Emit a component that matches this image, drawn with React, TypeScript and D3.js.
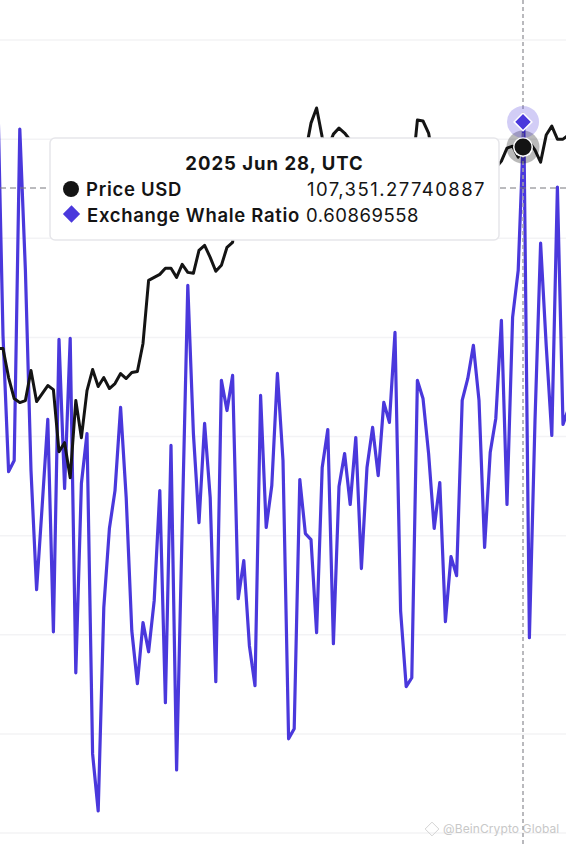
import React from 'react';
import * as d3 from 'd3';

const width = 566;
const height = 846;

// daily values, 2025-03-26 to 2025-07-06
const firstDay = new Date(Date.UTC(2025, 2, 26));
const lastDay = new Date(Date.UTC(2025, 6, 6));
const hoverDay = new Date(Date.UTC(2025, 5, 28));

const priceUsd = [
  88457, 88460, 85730, 83760, 83380, 83570, 86390, 83480, 84230, 84980, 84600, 78780, 79620, 76330, 83570,
  80090, 84510, 86480, 84890, 85730, 84700, 85170, 86110, 85640, 86200, 86300, 88930, 94850, 95130, 95410,
  95980, 95980, 95130, 96350, 95600, 95510, 97670, 98140, 97010, 95700, 96260, 97950, 98420, 102840, 102900,
  102800, 104100, 102700, 104100, 103500, 103700, 103500, 103100, 106400, 105600, 106800, 109600, 111020, 108290, 107260,
  108570, 109140, 108670, 108010, 105600, 103900, 104600, 105600, 105800, 105400, 104700, 101500, 104300, 105600, 104620,
  109890, 109800, 108670, 105600, 105900, 105400, 105500, 106800, 104600, 104800, 104600, 103300, 102200, 101000, 105400,
  106040, 107260, 107440, 106410, 107351.27740887, 107820, 107070, 105940, 108480, 109320, 108100, 108100, 108480,
];

const whaleRatio = [
  0.6313, 0.501, 0.4323, 0.4379, 0.6051, 0.5338, 0.4328, 0.3727, 0.4152, 0.4586, 0.3515, 0.499, 0.4238, 0.4995, 0.3308,
  0.4263, 0.4515, 0.2899, 0.2611, 0.3637, 0.4036, 0.4227, 0.4647, 0.4192, 0.352, 0.3253, 0.3561, 0.3414, 0.3672, 0.4227,
  0.3157, 0.4455, 0.2818, 0.4051, 0.5263, 0.4515, 0.4066, 0.4566, 0.4192, 0.3263, 0.4783, 0.4631, 0.4808, 0.3682, 0.3874,
  0.3445, 0.3243, 0.4707, 0.4041, 0.4253, 0.4818, 0.4379, 0.2975, 0.3026, 0.4283, 0.401, 0.398, 0.351, 0.4344, 0.4535,
  0.3455, 0.4248, 0.4414, 0.4157, 0.4495, 0.3834, 0.4344, 0.4546, 0.4303, 0.4672, 0.4571, 0.5025, 0.3621, 0.3238, 0.3283,
  0.4783, 0.4692, 0.4414, 0.4036, 0.4268, 0.3566, 0.3894, 0.3798, 0.4682, 0.4793, 0.496, 0.4682, 0.394, 0.4419, 0.4591,
  0.5086, 0.4157, 0.5101, 0.5338, 0.60869558, 0.3485, 0.4581, 0.5475, 0.496, 0.4505, 0.5758, 0.4561, 0.4642,
];

const ratioTicks = [0.25, 0.3, 0.35, 0.4, 0.45, 0.5, 0.55, 0.6, 0.65];
const hoverIndex = d3.timeDay.count(firstDay, hoverDay);

const BLUE = '#4a38dc';
const BLACK = '#141414';
const FONT = 'Inter, "Noto Sans", sans-serif';

const x = d3.scaleTime().domain([firstDay, lastDay]).range([-2.6, 568.6]);
const yPrice = d3.scaleLinear().domain([43000, 117400]).range([833, 40]);
const yRatio = d3.scaleLinear().domain([0.25, 0.65]).range([833, 40]);

const dayAt = (i: number) => d3.timeDay.offset(firstDay, i);
const priceLine = d3.line<number>().x((_, i) => x(dayAt(i))).y(d => yPrice(d));
const ratioLine = d3.line<number>().x((_, i) => x(dayAt(i))).y(d => yRatio(d));
const diamond = (size: number) => d3.symbol().type(d3.symbolDiamond2).size(size)() as string;

export default function App() {
  const hx = x(hoverDay) - 0.8;
  const hyPrice = yPrice(priceUsd[hoverIndex]);
  const hyRatio = yRatio(whaleRatio[hoverIndex]);

  return (
    <svg
      width={width}
      height={height}
      viewBox={`0 0 ${width} ${height}`}
      style={{ position: 'fixed', left: 0, top: 0, background: '#fff', fontFamily: FONT }}
    >
      {ratioTicks.map(t => (
        <line key={t} x1={0} x2={width} y1={yRatio(t)} y2={yRatio(t)} stroke="#f3f3f5" strokeWidth={1.5} />
      ))}

      <path d={diamond(120)} transform="translate(432,829)" fill="none" stroke="#d4d4d4" strokeWidth={1} />
      <text x={443} y={833} fontSize={12} fill="#c8c8c8" letterSpacing={0.1}>@BeinCrypto Global</text>

      <path d={ratioLine(whaleRatio) as string} fill="none" stroke={BLUE} strokeWidth={3.2} strokeLinejoin="round" />
      <path d={priceLine(priceUsd) as string} fill="none" stroke={BLACK} strokeWidth={3} strokeLinejoin="round" />

      <line x1={hx} x2={hx} y1={0} y2={height} stroke="#a3a3a8" strokeWidth={1.5} strokeDasharray="4 3" />
      <line x1={0} x2={width} y1={188} y2={188} stroke="#77777c" strokeWidth={1} strokeDasharray="6 4" />

      <circle cx={hx} cy={hyPrice} r={16.5} fill="#000" fillOpacity={0.27} />
      <circle cx={hx} cy={hyPrice} r={10} fill="#fff" />
      <circle cx={hx} cy={hyPrice} r={8.5} fill={BLACK} />
      <circle cx={hx} cy={hyRatio} r={16} fill={BLUE} fillOpacity={0.25} />
      <path d={diamond(200)} transform={`translate(${hx},${hyRatio})`} fill={BLUE} stroke="#fff" strokeWidth={1.5} />

      <rect x={50} y={138} width={449} height={102} rx={5} fill="#fff" stroke="#e6e6ea" strokeWidth={1.5} />
      <text x={274.5} y={170} textAnchor="middle" fontSize={18.5} fontWeight={700} fill={BLACK} letterSpacing={1}>
        2025 Jun 28, UTC
      </text>
      <circle cx={71} cy={189} r={8} fill={BLACK} />
      <text x={86} y={195.5} fontSize={18.5} fontWeight={600} fill={BLACK} letterSpacing={0.72}>Price USD</text>
      <text x={307} y={195.5} fontSize={18.5} fill={BLACK} letterSpacing={1.45}>107,351.27740887</text>
      <path d={diamond(190)} transform="translate(71.5,214)" fill={BLUE} />
      <text x={87} y={222} fontSize={18.5} fontWeight={600} fill={BLACK} letterSpacing={0.7}>Exchange Whale Ratio</text>
      <text x={306} y={222} fontSize={18.5} fill={BLACK} letterSpacing={0.55}>0.60869558</text>
    </svg>
  );
}
